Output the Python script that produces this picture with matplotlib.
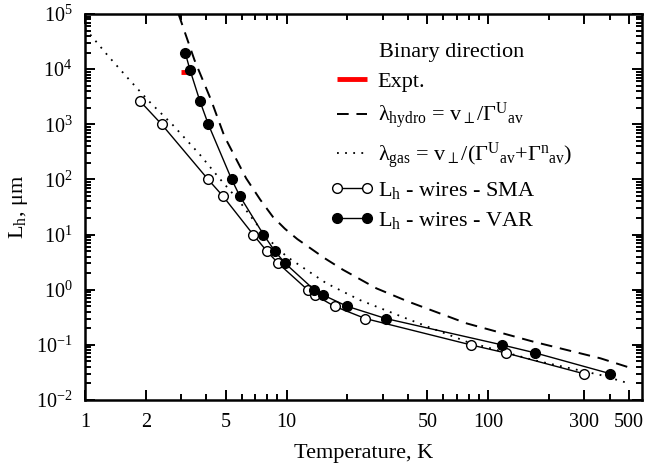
import numpy as np
import matplotlib
matplotlib.use("Agg")
import matplotlib.pyplot as plt
from matplotlib.ticker import LogLocator, NullFormatter

plt.rcParams["font.family"] = ["Liberation Serif", "DejaVu Serif"]
plt.rcParams["mathtext.fontset"] = "custom"
plt.rcParams["mathtext.rm"] = "Liberation Serif"
plt.rcParams["mathtext.it"] = "Liberation Serif:italic"
plt.rcParams["mathtext.bf"] = "Liberation Serif:bold"

# measured wire lengths (SMA / VAR)
T_sma = [1.88, 2.40, 4.08, 4.83, 6.83, 7.98, 9.1, 12.7, 13.8, 17.3, 24.6, 82, 123, 298]
L_sma = [2.6e3, 1.0e3, 100, 50, 10, 5.0, 3.0, 1.0, 0.8, 0.5, 0.3, 0.1, 0.071, 0.03]

T_var = [3.14, 3.32, 3.72, 4.09, 5.34, 5.86, 7.68, 8.75, 9.85, 13.7, 15.2, 20.0, 31.1, 117, 170, 404]
L_var = [2.0e4, 9.6e3, 2.6e3, 1.0e3, 100, 50, 10, 5.0, 3.0, 1.0, 0.8, 0.5, 0.3, 0.1, 0.072, 0.03]

# model curves
T_hydro = [2.91, 3.49, 4.22, 4.92, 6.3, 7.4, 8.55, 9.8, 11.3, 13.0, 15.5, 19.05, 27.9, 40.1, 78.3, 168, 361, 500]
L_hydro = [1.0e5, 1.47e4, 2.76e3, 6.0e2, 1.05e2, 43, 21, 12.8, 8.3, 5.8, 3.7, 2.3, 1.06, 0.61, 0.245, 0.114, 0.057, 0.039]

T_gas = [1.0, 1.3, 1.66, 2.08, 2.72, 3.69, 4.64, 5.84, 6.8, 8.2, 10.0, 15.75, 23.1, 39.4, 78.3, 168, 361, 500]
L_gas = [5.5e4, 1.75e4, 6.4e3, 2.6e3, 9.8e2, 2.9e2, 1.05e2, 40, 19, 8.0, 4.0, 1.31, 0.65, 0.30, 0.114, 0.053, 0.0284, 0.020]

# experiment
T_expt = [2.99, 3.42]
L_expt = [8.9e3, 8.9e3]

xticks_major = [1, 2, 5, 10, 50, 100, 300, 500]
xtick_labels = ["1", "2", "5", "10", "50", "100", "300", "500"]
xticks_minor = [3, 4, 6, 7, 8, 9, 20, 30, 40, 60, 70, 80, 90, 200, 400]

fig = plt.figure(figsize=(6.45, 4.72), dpi=100)
ax = fig.add_axes([0.1318, 0.1525, 0.8636, 0.8178])

ax.plot(T_expt, L_expt, color="#ff0000", lw=3.5, solid_capstyle="butt", label="Expt.")
ax.plot(T_hydro, L_hydro, color="black", lw=1.4, ls=(0, (6, 4)),
        label=r"λ$_{\rm hydro}$ = v$_{\perp}$/Γ$^{\rm U}{}_{\rm av}$")
ax.plot(T_gas, L_gas, color="black", lw=1.3, ls=(0, (1, 3.5)),
        label=r"λ$_{\rm gas}$ = v$_{\perp}$/(Γ$^{\rm U}{}_{\rm av}$+Γ$^{\rm n}{}_{\rm av}$)")
ax.plot(T_sma, L_sma, color="black", lw=1.0, marker="o", ms=7, mfc="white", mec="black", mew=1.0,
        label=r"L$_{\rm h}$ - wires - SMA")
ax.plot(T_var, L_var, color="black", lw=1.0, marker="o", ms=7, mfc="black", mec="black",
        label=r"L$_{\rm h}$ - wires - VAR")

ax.set_xscale("log")
ax.set_yscale("log")
ax.set_xlim(1, 580)
ax.set_ylim(1e-2, 1e5)

ax.set_xticks(xticks_major, xtick_labels)
ax.set_xticks(xticks_minor, minor=True)
ax.xaxis.set_minor_formatter(NullFormatter())
ax.yaxis.set_major_locator(LogLocator(base=10, numticks=10))
ax.yaxis.set_minor_locator(LogLocator(base=10, subs=np.arange(2, 10), numticks=10))
ax.yaxis.set_minor_formatter(NullFormatter())

ax.tick_params(which="both", direction="in", top=True, right=True, width=1.4)
ax.tick_params(which="major", length=7, labelsize=14.5, pad=9)
ax.tick_params(which="minor", length=4)
for s in ax.spines.values():
    s.set_linewidth(1.8)

ax.set_xlabel("Temperature, K", fontsize=16, labelpad=9)
ax.set_ylabel(r"L$_{\rm h}$, μm", fontsize=16, labelpad=4)

leg = ax.legend(title="Binary direction", loc="upper left", bbox_to_anchor=(0.42, 0.9525),
                frameon=False, fontsize=16, title_fontsize=16, handlelength=1.95,
                handletextpad=0.2, labelspacing=0.4, borderpad=0, numpoints=2)

fig.savefig("out.png", dpi=100)
